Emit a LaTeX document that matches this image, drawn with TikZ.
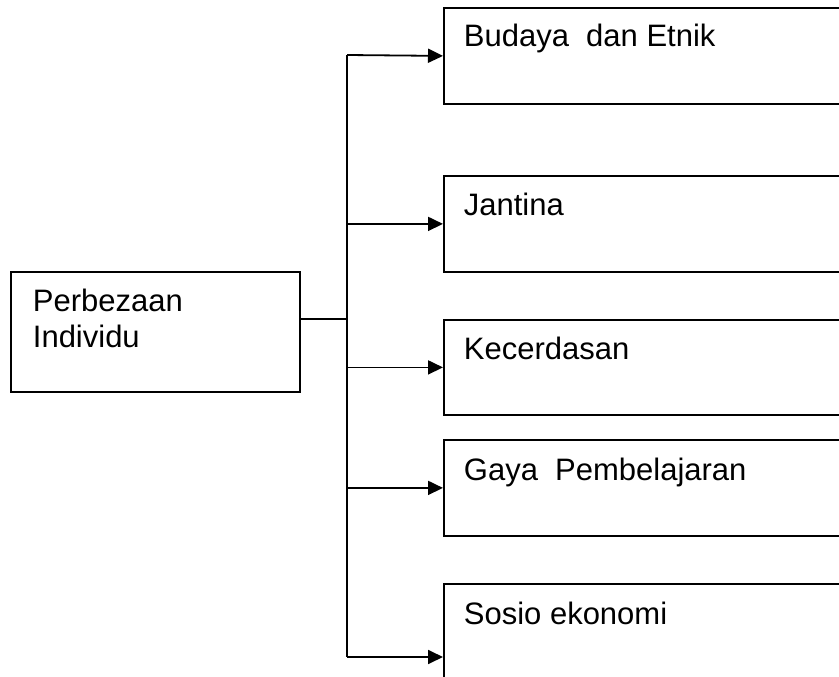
\documentclass[tikz,border=0pt]{standalone}
\usepackage{fontspec}
\setmainfont{Liberation Sans}
\usetikzlibrary{arrows.meta}
\begin{document}
\begin{tikzpicture}[x=1pt,y=-1pt,
  line width=1.8pt,
  box/.style={draw=black, line width=1.8pt, rectangle, inner sep=0pt, anchor=north west},
  lbl/.style={font=\fontsize{31}{36}\selectfont, inner sep=0pt, anchor=base west, align=left},
  arr/.style={-{Triangle[length=15pt,width=14pt]}},
  link/.style={line width=1.8pt}]
\clip (0,0) rectangle (839,677);
\fill[white] (0,0) rectangle (839,677);
% boxes
\node[box, minimum width=289pt, minimum height=120pt] (main) at (10,271) {};
\node[box, minimum width=440pt, minimum height=96pt] (b1) at (443,7) {};
\node[box, minimum width=440pt, minimum height=96pt] (b2) at (443,175) {};
\node[box, minimum width=440pt, minimum height=95pt] (b3) at (443,319) {};
\node[box, minimum width=440pt, minimum height=96pt] (b4) at (443,439) {};
\node[box, minimum width=440pt, minimum height=150pt] (b5) at (443,583) {};
% labels
\node[lbl] (tmain) at (32,311) {Perbezaan};
\node[lbl] (tmain2) at (32,347) {Individu};
\node[lbl] (t1) at (463,47) {Budaya\ \ dan Etnik};
\node[lbl] (t2) at (463,215) {Jantina};
\node[lbl] (t3) at (463,359) {Kecerdasan};
\node[lbl] (t4) at (463,480) {Gaya\ \ Pembelajaran};
\node[lbl] (t5) at (463,624) {Sosio ekonomi};
% connectors
\coordinate (j0) at (347,319);
\coordinate (top) at (347,55);
\coordinate (bot) at (347,657);
\coordinate (e5) at (443,657);
\draw[link] (main.east |- j0) -- (j0);
\draw[link] (top) -- (bot);
\draw[link,arr] (top) -- (b1.west);
\draw[link,arr] (347,0 |- b2.west) -- (b2.west);
\draw[link,arr] (347,0 |- b3.west) -- (b3.west);
\draw[link,arr] (347,0 |- b4.west) -- (b4.west);
\draw[link,arr] (bot) -- (e5);
\end{tikzpicture}
\end{document}
